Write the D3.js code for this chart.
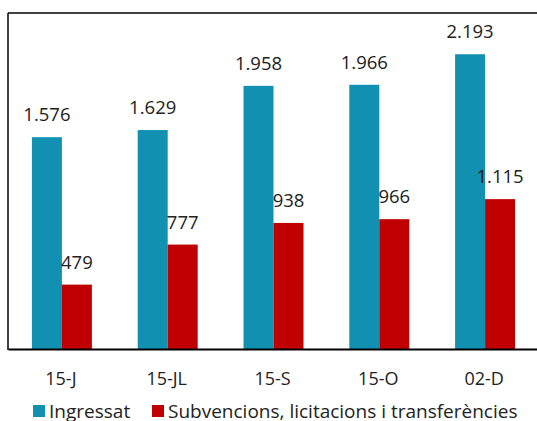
<!DOCTYPE html>
<html>
<head>
<meta charset="utf-8">
<script src="https://cdn.jsdelivr.net/npm/d3@7"></script>
<style>
  body { margin: 0; background: #fff; }
  text { font-family: "Open Sans", sans-serif; fill: #222; }
</style>
</head>
<body>
<div id="chart"></div>
<script>
// categories and values
const categories = ["15-J", "15-JL", "15-S", "15-O", "02-D"];
const ingressat = [1576, 1629, 1958, 1966, 2193];
const subvencions = [479, 777, 938, 966, 1115];
const seriesNames = ["Ingressat", "Subvencions, licitacions i transferències"];
const colors = ["#1190b1", "#c00000"];

const width = 537, height = 421;
const margin = { top: 13, right: 0, bottom: 72, left: 8 };

const svg = d3.select("#chart").append("svg")
    .attr("width", width)
    .attr("height", height);

const x = d3.scaleBand()
    .domain(categories)
    .range([margin.left, width - margin.right]);

const y = d3.scaleLinear()
    .domain([0, 2500])
    .range([height - margin.bottom, margin.top]);

const barW = 30;
const fmt = v => d3.format(",")(v).replace(/,/g, ".");

const series = [ingressat, subvencions];

series.forEach((vals, s) => {
    const g = svg.append("g");
    g.selectAll("rect")
        .data(vals)
        .enter()
        .append("rect")
        .attr("x", (d, i) => x(categories[i]) + x.bandwidth() / 2 - barW + s * barW + 1)
        .attr("y", d => y(d))
        .attr("width", barW)
        .attr("height", d => y(0) - y(d))
        .attr("fill", colors[s]);

    g.selectAll("text")
        .data(vals)
        .enter()
        .append("text")
        .attr("x", (d, i) => x(categories[i]) + x.bandwidth() / 2 - barW / 2 + s * barW + 1)
        .attr("y", d => y(d) - 16)
        .attr("text-anchor", "middle")
        .attr("font-size", "18.5px")
        .text(fmt);
});

// frame: left, top, bottom
svg.append("line")
    .attr("x1", margin.left).attr("x2", margin.left)
    .attr("y1", margin.top).attr("y2", y(0) + 1)
    .attr("stroke", "#000").attr("stroke-width", 1.5);
svg.append("line")
    .attr("x1", margin.left).attr("x2", width)
    .attr("y1", margin.top).attr("y2", margin.top)
    .attr("stroke", "#000").attr("stroke-width", 1.5);

const xAxis = svg.append("g")
    .attr("transform", `translate(0,${y(0)})`)
    .call(d3.axisBottom(x).tickSize(0).tickPadding(23));
xAxis.select(".domain").attr("stroke", "#000").attr("stroke-width", 2);
xAxis.selectAll("text")
    .attr("font-size", "18px")
    .attr("font-family", "Open Sans, sans-serif")
    .attr("fill", "#222");

// legend
const legend = svg.append("g").attr("transform", "translate(33,411)");
const legendX = [0, 119];
seriesNames.forEach((name, i) => {
    legend.append("rect")
        .attr("x", legendX[i]).attr("y", -6)
        .attr("width", 12).attr("height", 12)
        .attr("fill", colors[i]);
    legend.append("text")
        .attr("x", legendX[i] + 16).attr("y", 0)
        .attr("dy", "0.35em")
        .attr("font-size", "19px")
        .text(name);
});
</script>
</body>
</html>
